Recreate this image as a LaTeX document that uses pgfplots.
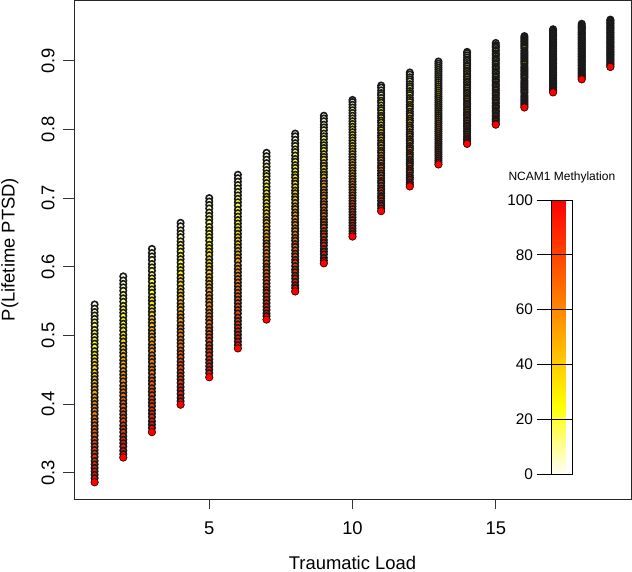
\documentclass[border=0pt]{standalone}
\usepackage{fontspec}
\setmainfont{Liberation Sans}
\usepackage{pgfplots}
\usepackage{pgfplotstable}
\pgfplotsset{compat=1.18}

\pgfplotstableread{
m y1 y2 y3 y4 y5 y6 y7 y8 y9 y10 y11 y12 y13 y14 y15 y16 y17 y18 y19
0 0.545 0.586 0.626 0.664 0.700 0.734 0.766 0.794 0.820 0.843 0.864 0.883 0.899 0.913 0.926 0.936 0.946 0.954 0.960
2 0.539 0.580 0.620 0.659 0.695 0.729 0.761 0.790 0.816 0.840 0.861 0.880 0.896 0.911 0.923 0.934 0.944 0.952 0.959
4 0.534 0.575 0.615 0.653 0.690 0.724 0.756 0.785 0.812 0.836 0.857 0.876 0.893 0.908 0.921 0.932 0.942 0.950 0.958
6 0.529 0.570 0.610 0.648 0.685 0.719 0.751 0.780 0.807 0.832 0.853 0.873 0.890 0.905 0.919 0.930 0.940 0.949 0.956
8 0.524 0.565 0.604 0.643 0.679 0.714 0.746 0.776 0.803 0.828 0.850 0.870 0.887 0.902 0.916 0.928 0.938 0.947 0.955
10 0.519 0.559 0.599 0.637 0.674 0.709 0.741 0.771 0.799 0.824 0.846 0.866 0.884 0.900 0.914 0.926 0.937 0.946 0.954
12 0.514 0.554 0.594 0.632 0.669 0.704 0.736 0.767 0.794 0.820 0.842 0.863 0.881 0.897 0.911 0.924 0.935 0.944 0.952
14 0.508 0.549 0.588 0.627 0.664 0.699 0.732 0.762 0.790 0.816 0.839 0.860 0.878 0.894 0.909 0.922 0.933 0.942 0.951
16 0.503 0.543 0.583 0.622 0.658 0.694 0.727 0.757 0.786 0.812 0.835 0.856 0.875 0.892 0.907 0.920 0.931 0.941 0.949
18 0.498 0.538 0.578 0.616 0.653 0.689 0.722 0.753 0.781 0.808 0.831 0.853 0.872 0.889 0.904 0.918 0.929 0.939 0.948
20 0.493 0.533 0.572 0.611 0.648 0.683 0.717 0.748 0.777 0.804 0.828 0.850 0.869 0.886 0.902 0.915 0.927 0.938 0.947
22 0.488 0.528 0.567 0.606 0.643 0.678 0.712 0.744 0.773 0.800 0.824 0.846 0.866 0.884 0.900 0.913 0.926 0.936 0.945
24 0.483 0.522 0.562 0.600 0.638 0.673 0.707 0.739 0.769 0.796 0.820 0.843 0.863 0.881 0.897 0.911 0.924 0.934 0.944
26 0.477 0.517 0.556 0.595 0.632 0.668 0.702 0.734 0.764 0.792 0.817 0.840 0.860 0.878 0.895 0.909 0.922 0.933 0.942
28 0.472 0.512 0.551 0.590 0.627 0.663 0.698 0.730 0.760 0.788 0.813 0.836 0.857 0.876 0.892 0.907 0.920 0.931 0.941
30 0.467 0.507 0.546 0.584 0.622 0.658 0.693 0.725 0.756 0.784 0.810 0.833 0.854 0.873 0.890 0.905 0.918 0.930 0.940
32 0.462 0.501 0.540 0.579 0.617 0.653 0.688 0.721 0.751 0.780 0.806 0.830 0.851 0.870 0.888 0.903 0.916 0.928 0.938
34 0.457 0.496 0.535 0.574 0.611 0.648 0.683 0.716 0.747 0.776 0.802 0.826 0.848 0.868 0.885 0.901 0.914 0.926 0.937
36 0.452 0.491 0.530 0.568 0.606 0.643 0.678 0.711 0.743 0.772 0.799 0.823 0.845 0.865 0.883 0.899 0.913 0.925 0.935
38 0.446 0.485 0.524 0.563 0.601 0.638 0.673 0.707 0.738 0.768 0.795 0.820 0.842 0.862 0.881 0.897 0.911 0.923 0.934
40 0.441 0.480 0.519 0.558 0.596 0.633 0.668 0.702 0.734 0.764 0.791 0.816 0.839 0.860 0.878 0.895 0.909 0.922 0.933
42 0.436 0.475 0.514 0.553 0.591 0.628 0.664 0.698 0.730 0.760 0.788 0.813 0.836 0.857 0.876 0.892 0.907 0.920 0.931
44 0.431 0.470 0.508 0.547 0.585 0.623 0.659 0.693 0.725 0.756 0.784 0.810 0.833 0.854 0.873 0.890 0.905 0.918 0.930
46 0.426 0.464 0.503 0.542 0.580 0.618 0.654 0.688 0.721 0.752 0.780 0.806 0.830 0.852 0.871 0.888 0.903 0.917 0.928
48 0.421 0.459 0.498 0.537 0.575 0.613 0.649 0.684 0.717 0.748 0.777 0.803 0.827 0.849 0.869 0.886 0.902 0.915 0.927
50 0.416 0.454 0.493 0.531 0.570 0.608 0.644 0.679 0.712 0.744 0.773 0.800 0.824 0.846 0.866 0.884 0.900 0.914 0.926
52 0.410 0.448 0.487 0.526 0.565 0.602 0.639 0.675 0.708 0.740 0.769 0.796 0.821 0.844 0.864 0.882 0.898 0.912 0.924
54 0.405 0.443 0.482 0.521 0.559 0.597 0.634 0.670 0.704 0.736 0.766 0.793 0.818 0.841 0.862 0.880 0.896 0.910 0.923
56 0.400 0.438 0.477 0.515 0.554 0.592 0.630 0.665 0.700 0.732 0.762 0.790 0.815 0.838 0.859 0.878 0.894 0.909 0.921
58 0.395 0.433 0.471 0.510 0.549 0.587 0.625 0.661 0.695 0.728 0.758 0.786 0.812 0.836 0.857 0.876 0.892 0.907 0.920
60 0.390 0.427 0.466 0.505 0.544 0.582 0.620 0.656 0.691 0.724 0.755 0.783 0.809 0.833 0.854 0.874 0.891 0.906 0.919
62 0.385 0.422 0.461 0.500 0.538 0.577 0.615 0.652 0.687 0.720 0.751 0.780 0.806 0.830 0.852 0.871 0.889 0.904 0.917
64 0.379 0.417 0.455 0.494 0.533 0.572 0.610 0.647 0.682 0.716 0.747 0.776 0.803 0.828 0.850 0.869 0.887 0.902 0.916
66 0.374 0.412 0.450 0.489 0.528 0.567 0.605 0.642 0.678 0.712 0.744 0.773 0.800 0.825 0.847 0.867 0.885 0.901 0.914
68 0.369 0.406 0.445 0.484 0.523 0.562 0.600 0.638 0.674 0.708 0.740 0.770 0.797 0.822 0.845 0.865 0.883 0.899 0.913
70 0.364 0.401 0.439 0.478 0.518 0.557 0.596 0.633 0.669 0.704 0.736 0.766 0.794 0.820 0.843 0.863 0.881 0.898 0.912
72 0.359 0.396 0.434 0.473 0.512 0.552 0.591 0.629 0.665 0.700 0.733 0.763 0.791 0.817 0.840 0.861 0.880 0.896 0.910
74 0.354 0.390 0.429 0.468 0.507 0.547 0.586 0.624 0.661 0.696 0.729 0.760 0.788 0.814 0.838 0.859 0.878 0.894 0.909
76 0.348 0.385 0.423 0.462 0.502 0.542 0.581 0.619 0.657 0.692 0.725 0.756 0.785 0.812 0.835 0.857 0.876 0.893 0.908
78 0.343 0.380 0.418 0.457 0.497 0.537 0.576 0.615 0.652 0.688 0.722 0.753 0.782 0.809 0.833 0.855 0.874 0.891 0.906
80 0.338 0.375 0.413 0.452 0.492 0.532 0.571 0.610 0.648 0.684 0.718 0.750 0.779 0.806 0.831 0.853 0.872 0.889 0.905
82 0.333 0.369 0.407 0.446 0.486 0.526 0.566 0.606 0.644 0.680 0.714 0.747 0.776 0.804 0.828 0.850 0.870 0.888 0.903
84 0.328 0.364 0.402 0.441 0.481 0.521 0.562 0.601 0.639 0.676 0.711 0.743 0.773 0.801 0.826 0.848 0.869 0.886 0.902
86 0.323 0.359 0.397 0.436 0.476 0.516 0.557 0.596 0.635 0.672 0.707 0.740 0.770 0.798 0.824 0.846 0.867 0.885 0.901
88 0.317 0.353 0.391 0.431 0.471 0.511 0.552 0.592 0.631 0.668 0.703 0.737 0.767 0.796 0.821 0.844 0.865 0.883 0.899
90 0.312 0.348 0.386 0.425 0.465 0.506 0.547 0.587 0.626 0.664 0.700 0.733 0.764 0.793 0.819 0.842 0.863 0.881 0.898
92 0.307 0.343 0.381 0.420 0.460 0.501 0.542 0.583 0.622 0.660 0.696 0.730 0.761 0.790 0.816 0.840 0.861 0.880 0.896
94 0.302 0.338 0.375 0.415 0.455 0.496 0.537 0.578 0.618 0.656 0.692 0.727 0.758 0.787 0.814 0.838 0.859 0.878 0.895
96 0.297 0.332 0.370 0.409 0.450 0.491 0.532 0.573 0.613 0.652 0.689 0.723 0.755 0.785 0.812 0.836 0.857 0.877 0.894
98 0.292 0.327 0.365 0.404 0.445 0.486 0.528 0.569 0.609 0.648 0.685 0.720 0.752 0.782 0.809 0.834 0.856 0.875 0.892
100 0.286 0.322 0.359 0.399 0.439 0.481 0.523 0.564 0.605 0.644 0.681 0.717 0.749 0.779 0.807 0.832 0.854 0.873 0.891
}\data

\begin{document}
\begin{tikzpicture}
\useasboundingbox (0,0) rectangle (632pt,572pt);
\begin{axis}[
  at={(74pt,73pt)}, anchor=south west,
  scale only axis, width=557pt, height=499pt,
  xmin=0.28, xmax=19.72, ymin=0.2616, ymax=0.9886,
  xtick={5,10,15}, ytick={0.3,0.4,0.5,0.6,0.7,0.8,0.9},
  xtick pos=bottom, ytick pos=left,
  tick align=outside, major tick length=10.5pt,
  tick style={black!80, line width=0.8pt},
  axis line style={black!85, line width=0.9pt},
  font=\fontsize{18.4}{22}\selectfont,
  /pgf/number format/assume math mode=true,
  xticklabel style={anchor=base},
  yticklabel style={rotate=90, anchor=base},
  xticklabel shift=25pt,
  yticklabel shift=9pt,
  xlabel={Traumatic Load}, ylabel={P(Lifetime PTSD)},
  xlabel style={at={(axis description cs:0.5,-0.1413)}, anchor=base},
  ylabel style={at={(axis description cs:-0.1068,0.5)}, anchor=base, rotate=0},
  colormap={heat}{rgb255(0cm)=(255,255,250); rgb255(1cm)=(255,255,0); rgb255(4cm)=(255,0,0)},
  point meta min=0, point meta max=100,
  colorbar,
  colorbar style={
    at={(543pt,98pt)}, anchor=south west,
    scale only axis, width=20.7pt, height=274pt,
    ytick={0,20,40,60,80,100},
    yticklabel pos=left, ytick pos=left,
    tick align=outside, major tick length=15pt,
    tick style={black, line width=0.8pt},
    ymajorgrids, major grid style={black, line width=0.8pt},
    axis on top,
    axis line style={black, line width=0.8pt},
    yticklabel style={font=\fontsize{15.4}{18}\selectfont, anchor=east},
    /pgf/number format/assume math mode=true,
    title={NCAM1 Methylation},
    title style={font=\fontsize{12}{14}\selectfont, at={(0.5,1)}, anchor=base, yshift=13.5pt},
  },
]
\pgfplotsinvokeforeach{1,...,19}{
  \addplot[scatter, only marks, mark=*, mark size=3.2pt, point meta=explicit,
    mark options={line width=1.6pt},
    scatter/use mapped color={draw=black!90, fill=mapped color}]
    table[x expr=#1, y=y#1, meta=m] {\data};
  \addplot[only marks, mark=*, mark size=3.6pt,
    mark options={fill=red, draw=black!70!red, line width=0.5pt},
    restrict expr to domain={\thisrow{m}}{99:101}]
    table[x expr=#1, y=y#1] {\data};
}
\end{axis}
\end{tikzpicture}
\end{document}
